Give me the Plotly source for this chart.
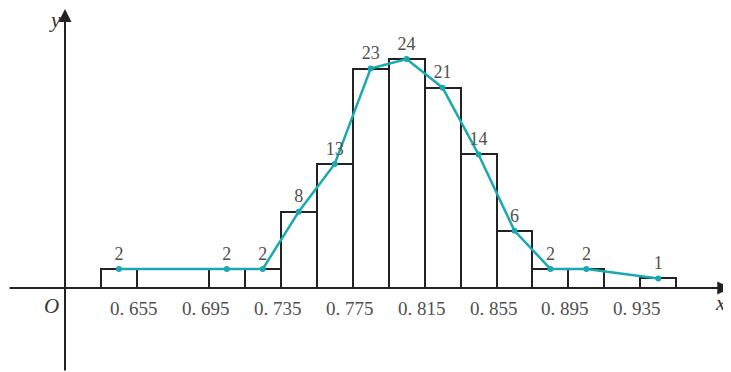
import plotly.graph_objects as go

# Data
bin_left = [0.635, 0.655, 0.675, 0.695, 0.715, 0.735, 0.755, 0.775,
            0.795, 0.815, 0.835, 0.855, 0.875, 0.895, 0.915, 0.935]
counts = [2, 0, 0, 2, 2, 8, 13, 23, 24, 21, 14, 6, 2, 2, 0, 1]
bin_width = 0.02
tick_vals = [0.655, 0.695, 0.735, 0.775, 0.815, 0.855, 0.895, 0.935]
tick_text = ["0. 655", "0. 695", "0. 735", "0. 775", "0. 815", "0. 855", "0. 895", "0. 935"]

centers = [b + bin_width / 2 for b in bin_left]
bar_x = [c for c, n in zip(centers, counts) if n > 0]
bar_y = [n for n in counts if n > 0]

TEAL = "#18a9b1"
SERIF = "Liberation Serif, DejaVu Serif, serif"
LABEL = "#505050"
AXIS_X0 = 0.615  # where the vertical axis is drawn

X_RANGE = [0.5833, 0.98541]
Y_RANGE = [-8.805, 29.35]

fig = go.Figure()
fig.add_trace(go.Bar(
    x=bar_x, y=bar_y, width=bin_width,
    marker=dict(color="white", line=dict(color="#222222", width=2)),
    hoverinfo="skip",
))
fig.add_trace(go.Scatter(
    x=bar_x, y=bar_y, mode="lines+markers+text",
    line=dict(color=TEAL, width=2.5),
    marker=dict(color=TEAL, size=6),
    text=[str(n) for n in bar_y], textposition="top center",
    textfont=dict(family=SERIF, size=18, color=LABEL),
    cliponaxis=False,
))

annotations = []
for v, t in zip(tick_vals, tick_text):
    annotations.append(dict(x=v, y=0, xref="x", yref="y", text=t, showarrow=False,
                            xanchor="center", yanchor="middle", xshift=-3, yshift=-20,
                            font=dict(family=SERIF, size=19, color=LABEL)))
# x axis arrow
annotations.append(dict(x=X_RANGE[1] - 0.0004, y=0, ax=X_RANGE[0], ay=0, xref="x", yref="y",
                        axref="x", ayref="y", text="", showarrow=True,
                        arrowhead=2, arrowsize=1.3, arrowwidth=2, arrowcolor="#222222"))
# y axis arrow
annotations.append(dict(x=AXIS_X0, y=Y_RANGE[1] - 0.1, ax=AXIS_X0, ay=Y_RANGE[0], xref="x", yref="y",
                        axref="x", ayref="y", text="", showarrow=True,
                        arrowhead=2, arrowsize=1.3, arrowwidth=2, arrowcolor="#222222"))
annotations.append(dict(x=0.9793, y=0, xref="x", yref="y", text="<i>x</i>", showarrow=False,
                        xanchor="center", yanchor="middle", yshift=-15,
                        font=dict(family=SERIF, size=21, color="#333333")))
annotations.append(dict(x=AXIS_X0, y=Y_RANGE[1], xref="x", yref="y", text="<i>y</i>", showarrow=False,
                        xanchor="center", yanchor="middle", xshift=-10, yshift=-11,
                        font=dict(family=SERIF, size=22, color="#333333")))
annotations.append(dict(x=AXIS_X0, y=0, xref="x", yref="y", text="<i>O</i>", showarrow=False,
                        xanchor="center", yanchor="middle", xshift=-14, yshift=-18,
                        font=dict(family=SERIF, size=21, color="#333333")))

fig.update_layout(
    width=723, height=364,
    margin=dict(l=0, r=0, t=0, b=0),
    paper_bgcolor="white", plot_bgcolor="white",
    showlegend=False,
    bargap=0,
    xaxis=dict(range=X_RANGE, visible=False, fixedrange=True),
    yaxis=dict(range=Y_RANGE, visible=False, fixedrange=True),
    annotations=annotations,
)

fig.write_html("out.html")
